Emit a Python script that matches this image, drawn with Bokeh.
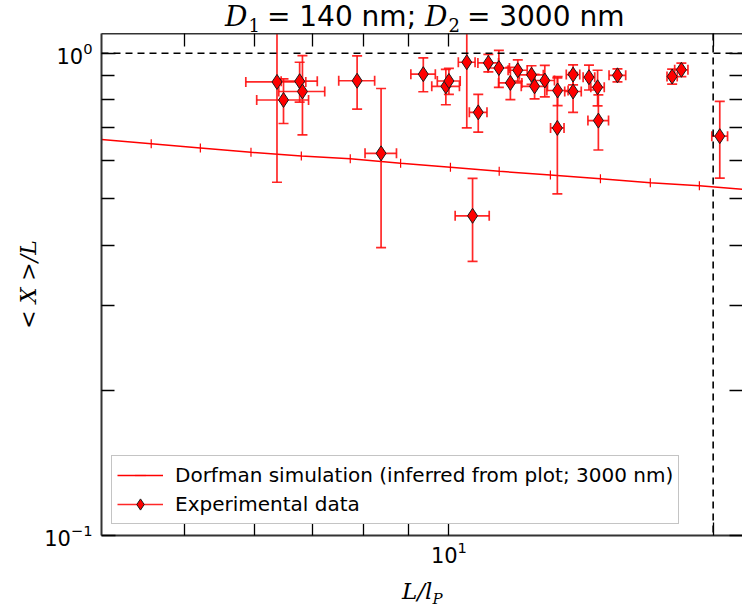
import numpy as np
from bokeh.plotting import figure
from bokeh.layouts import column
from bokeh.models import (Range1d, LogAxis, FixedTicker, Span, Legend, Div,
                          LegendItem, ColumnDataSource)
from bokeh.embed import file_html
from bokeh.resources import INLINE

# ---------------- data ----------------
# Dorfman simulation (x = L/lP, y = <X>/L)
sim_x = [3.52, 4.02, 4.58, 5.21, 5.95, 6.79, 7.72, 8.81, 10.04, 11.41, 13.05, 14.88, 16.96, 19.29, 21.99]
sim_y = [0.673, 0.662, 0.649, 0.636, 0.623, 0.612, 0.604, 0.591, 0.580, 0.569, 0.559, 0.549, 0.539, 0.531, 0.521]

# Experimental data with symmetric errors
exp_x = [6.37, 6.48, 6.76, 6.81, 7.86, 8.37, 9.35, 9.92, 10.00, 10.48,
         10.80, 11.09, 11.40, 11.75, 11.98, 12.42, 12.52, 12.86, 13.30, 13.29,
         13.85, 13.85, 14.44, 14.77, 14.80, 15.56, 17.96, 18.40, 20.35, 10.64]
exp_xerr = [0.50, 0.44, 0.32, 0.41, 0.37, 0.345, 0.30, 0.36, 0.30, 0.23,
            0.25, 0.30, 0.32, 0.36, 0.30, 0.39, 0.43, 0.33, 0.37, 0.235,
            0.245, 0.30, 0.22, 0.26, 0.40, 0.34, 0.24, 0.32, 0.42, 0.475]
exp_y = [0.872, 0.800, 0.875, 0.833, 0.877, 0.620, 0.905, 0.854, 0.876, 0.958,
         0.754, 0.955, 0.932, 0.868, 0.922, 0.902, 0.854, 0.878, 0.837, 0.700,
         0.903, 0.833, 0.892, 0.850, 0.725, 0.900, 0.895, 0.924, 0.673, 0.460]
exp_yerr = [0.332, 0.085, 0.083, 0.156, 0.111, 0.225, 0.073, 0.072, 0.054, 0.258,
            0.068, 0.040, 0.082, 0.067, 0.047, 0.040, 0.050, 0.066, 0.058, 0.189,
            0.043, 0.079, 0.053, 0.072, 0.095, 0.028, 0.032, 0.030, 0.122, 0.090]

x_major = [10]
x_minor = [4, 5, 6, 7, 8, 9, 20]
y_major = [0.1, 1.0]
y_minor = [0.2, 0.3, 0.4, 0.5, 0.6, 0.7, 0.8, 0.9]
y_ref = 1.0      # horizontal dashed line
x_ref = 20       # vertical dashed line

sim_label = "Dorfman simulation (inferred from plot; 3000 nm)"
exp_label = "Experimental data"

# ---------------- title (HTML, mixed math/sans) ----------------
SERIF = "'DejaVu Serif'"
SANS = "'DejaVu Sans'"
def mathD(sub):
    return (f"<span style=\"font-family:{SERIF};font-style:italic;font-size:28px;\">D</span>"
            f"<span style=\"font-family:{SERIF};font-size:18px;position:relative;top:6px;"
            f"margin-left:1px;margin-right:7px;\">{sub}</span>")

title_html = (f"<div style=\"margin-left:225px;padding-top:0px;white-space:nowrap;"
              f"font-family:{SANS};font-size:28px;line-height:33px;color:black;\">"
              f"{mathD('1')}= 140 nm; {mathD('2')}= 3000 nm</div>")
title_div = Div(text=title_html, width=742, height=33, margin=0)

xlabel_html = (f"<div style=\"margin-left:402px;padding-top:2px;white-space:nowrap;font-family:{SERIF};"
               f"font-style:italic;font-size:23px;line-height:24px;color:black;\">"
               f"L/l<span style=\"font-size:15px;position:relative;top:5px;\">P</span></div>")
xlabel_div = Div(text=xlabel_html, width=742, height=30, margin=0)

# ---------------- figure ----------------
p = figure(width=742, height=607 - 33 - 30, x_axis_type="log", y_axis_type="log",
           x_range=Range1d(4.02, 21.6), y_range=Range1d(0.0999, 1.099),
           output_backend="svg", toolbar_location=None,
           min_border_left=101, min_border_right=0, min_border_top=0,
           min_border_bottom=42)
p.xgrid.visible = False
p.ygrid.visible = False
p.outline_line_color = None
p.background_fill_color = "white"
p.border_fill_color = "white"

SPINE = "#333333"
TICKFONT = "DejaVu Sans"

def style_axis(ax):
    ax.axis_line_color = SPINE
    ax.axis_line_width = 2
    ax.major_tick_line_color = "black"
    ax.minor_tick_line_color = "black"
    ax.major_tick_line_width = 1.3
    ax.minor_tick_line_width = 1.3
    ax.major_tick_in = 14
    ax.major_tick_out = 0
    ax.minor_tick_in = 13
    ax.minor_tick_out = 0
    ax.major_label_text_font = TICKFONT
    ax.major_label_text_font_size = "21px"
    ax.major_label_text_color = "black"

xa = p.xaxis[0]
xa.ticker = FixedTicker(ticks=x_major, minor_ticks=x_minor)
style_axis(xa)
xa.major_label_standoff = 5

ya = p.yaxis[0]
ya.ticker = FixedTicker(ticks=y_major, minor_ticks=y_minor)
style_axis(ya)
ya.major_label_standoff = 9
ya.axis_label = "< X >/L"
ya.axis_label_text_font = "DejaVu Serif"
ya.axis_label_text_font_style = "italic"
ya.axis_label_text_font_size = "22px"
ya.axis_label_text_color = "black"
ya.axis_label_standoff = 0

# mirrored axes: only tick marks (all as minor ticks, so no labels)
top = LogAxis(ticker=FixedTicker(ticks=[], minor_ticks=x_minor + x_major))
style_axis(top)
top.major_label_standoff = 0
p.add_layout(top, "above")

right = LogAxis(ticker=FixedTicker(ticks=[], minor_ticks=y_minor + y_major))
style_axis(right)
right.axis_line_color = None
right.major_label_standoff = 0
p.add_layout(right, "right")

# reference dashed lines
p.add_layout(Span(location=y_ref, dimension="width", line_color="black",
                  line_dash="7 5", line_width=1.6))
p.add_layout(Span(location=x_ref, dimension="height", line_color="black",
                  line_dash="7 5", line_width=1.6))

# simulation
sim_line = p.line(sim_x, sim_y, line_color="red", line_width=1.5)
sim_ticks = p.scatter(sim_x, sim_y, marker="dash", angle=np.pi / 2, size=9,
                      line_color="red", line_width=1.2)

# experimental data with error bars
ex = np.array(exp_x); ey = np.array(exp_y)
exe = np.array(exp_xerr); eye = np.array(exp_yerr)
src = ColumnDataSource(dict(x=ex, y=ey, xlo=ex - exe, xhi=ex + exe,
                            ylo=ey - eye, yhi=ey + eye))
ERR = "#ff1010"
xseg = p.segment(x0="xlo", y0="y", x1="xhi", y1="y", source=src,
                 line_color=ERR, line_width=1.7, line_alpha=0.9)
p.segment(x0="x", y0="ylo", x1="x", y1="yhi", source=src,
          line_color=ERR, line_width=1.7, line_alpha=0.9)
for col in ("ylo", "yhi"):
    p.scatter(x="x", y=col, source=src, marker="dash", size=10,
              line_color=ERR, line_width=1.7, line_alpha=0.9)
for col in ("xlo", "xhi"):
    p.scatter(x=col, y="y", source=src, marker="dash", angle=np.pi / 2, size=10,
              line_color=ERR, line_width=1.7, line_alpha=0.9)
diam = p.scatter(x="x", y="y", source=src, marker="diamond", size=15,
                 fill_color="red", line_color="#1a1a1a", line_width=1)

legend = Legend(items=[LegendItem(label=sim_label, renderers=[sim_line, sim_ticks]),
                       LegendItem(label=exp_label, renderers=[xseg, diam])],
                location=(10, 11), orientation="vertical",
                label_text_font="DejaVu Sans", label_text_font_size="20px",
                label_text_color="black", glyph_width=46, glyph_height=28,
                label_height=24, label_standoff=12, padding=5, spacing=1,
                margin=0, border_line_color="#8a8a8a", border_line_width=1.2,
                background_fill_color="white", background_fill_alpha=1.0)
p.add_layout(legend)

layout = column(title_div, p, xlabel_div, spacing=0)
open("out.html", "w").write(file_html(layout, INLINE))
